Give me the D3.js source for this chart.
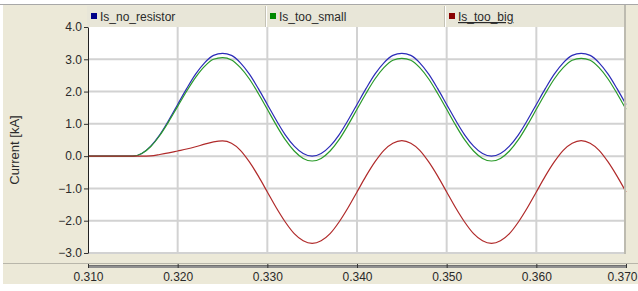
<!DOCTYPE html>
<html><head><meta charset="utf-8">
<script src="https://cdn.jsdelivr.net/npm/d3@7"></script>
<style>
html,body{margin:0;padding:0;background:#fff;}
svg{display:block;font-family:"Liberation Sans",Arial,sans-serif;}
</style></head>
<body>
<svg id="c" width="638" height="291"></svg>
<script>
// time [s]
const times = [0.310,0.311,0.312,0.313,0.314,0.315,0.316,0.317,0.318,0.319,
  0.320,0.321,0.322,0.323,0.324,0.325,0.326,0.327,0.328,0.329,
  0.330,0.331,0.332,0.333,0.334,0.335,0.336,0.337,0.338,0.339,
  0.340,0.341,0.342,0.343,0.344,0.345,0.346,0.347,0.348,0.349,
  0.350,0.351,0.352,0.353,0.354,0.355,0.356,0.357,0.358,0.359,
  0.360,0.361,0.362,0.363,0.364,0.365,0.366,0.367,0.368,0.369,0.370];
const isNoResistor = [0,0,0,0,0,0,0.08,0.31,0.66,1.11,
  1.60,2.09,2.54,2.89,3.12,3.18,3.12,2.89,2.54,2.09,
  1.60,1.11,0.66,0.31,0.08,0.00,0.08,0.31,0.66,1.11,
  1.60,2.09,2.54,2.89,3.12,3.18,3.12,2.89,2.54,2.09,
  1.60,1.11,0.66,0.31,0.08,0.00,0.08,0.31,0.66,1.11,
  1.60,2.09,2.54,2.89,3.12,3.18,3.12,2.89,2.54,2.09,1.60];
const isTooSmall = [0,0,0,0,0,0,0.08,0.30,0.64,1.07,
  1.54,2.01,2.44,2.78,3.00,3.05,2.98,2.74,2.39,1.94,
  1.45,0.96,0.51,0.16,-0.07,-0.15,-0.07,0.16,0.51,0.96,
  1.45,1.94,2.39,2.74,2.97,3.03,2.97,2.74,2.39,1.94,
  1.45,0.96,0.51,0.16,-0.07,-0.15,-0.07,0.16,0.51,0.96,
  1.45,1.94,2.39,2.74,2.97,3.03,2.97,2.74,2.39,1.94,1.45];
const isTooBig = [0,0,0,0,0,0,0,0.01,0.05,0.10,
  0.16,0.22,0.29,0.37,0.44,0.47,0.40,0.18,-0.18,-0.62,
  -1.11,-1.60,-2.04,-2.40,-2.62,-2.70,-2.62,-2.40,-2.04,-1.60,
  -1.11,-0.62,-0.18,0.18,0.40,0.48,0.40,0.18,-0.18,-0.62,
  -1.11,-1.60,-2.04,-2.40,-2.62,-2.70,-2.62,-2.40,-2.04,-1.60,
  -1.11,-0.62,-0.18,0.18,0.40,0.48,0.40,0.18,-0.18,-0.62,-1.11];
const seriesNames = ["Is_no_resistor","Is_too_small","Is_too_big"];
const xTicks = [0.310,0.320,0.330,0.340,0.350,0.360,0.370];
const yTicks = [-3,-2,-1,0,1,2,3,4];
const yLabel = "Current [kA]";

const lineColors = ["#2b2bb8","#2a9a2a","#b02a2a"];
const legendColors = ["#000088","#008800","#880000"];

const svg = d3.select("#c");
const W = 638, H = 291;
const beige = "#ece9d8";
const L = 88, R = 626, T = 27, B = 253;
const x = d3.scaleLinear().domain([0.310,0.370]).range([L,R]);
const y = d3.scaleLinear().domain([-3,4]).range([B,T]);

// backgrounds
svg.append("rect").attr("x",3).attr("y",5).attr("width",W-3).attr("height",279).attr("fill",beige);
svg.append("line").attr("x1",0).attr("x2",W).attr("y1",4.5).attr("y2",4.5).attr("stroke","#a8a8a8");
// plot area
svg.append("rect").attr("x",L).attr("y",T).attr("width",R-L).attr("height",B-T+1).attr("fill","#fff");

// grid
const g = svg.append("g");
g.selectAll("line.v").data(xTicks.slice(1,-1)).join("line")
  .attr("x1",d=>x(d)).attr("x2",d=>x(d)).attr("y1",T).attr("y2",B)
  .attr("stroke","#d2d2d2").attr("stroke-width",2);
g.selectAll("line.h").data(yTicks.slice(0,-1)).join("line")
  .attr("x1",L).attr("x2",R).attr("y1",d=>y(d)).attr("y2",d=>y(d))
  .attr("stroke","#d2d2d2").attr("stroke-width",2);

// lines
const allSeries = [isNoResistor,isTooSmall,isTooBig];
const lineGen = d3.line().x((d,i)=>x(times[i])).y(d=>y(d)).curve(d3.curveMonotoneX);
[0,1,2].forEach(k=>{
  svg.append("path").datum(allSeries[k]).attr("d",lineGen)
    .attr("fill","none").attr("stroke",lineColors[k]).attr("stroke-width",1.2);
});

// y axis
const yAxis = d3.axisLeft(y).tickValues(yTicks).tickFormat(d3.format(".1f")).tickSize(4).tickSizeOuter(0);
const ya = svg.append("g").attr("transform",`translate(${L},0)`).call(yAxis);
ya.select(".domain").attr("stroke","#222");
ya.selectAll(".tick line").attr("stroke","#333");
ya.selectAll("text").attr("font-size",12).attr("fill","#2a2a2a").attr("font-family","Liberation Sans, Arial").attr("x",-6);

svg.append("text").attr("transform","translate(19,150) rotate(-90)")
  .attr("text-anchor","middle").attr("font-size",13).attr("fill","#2a2a2a").text(yLabel);

// right legend border
svg.append("rect").attr("x",R-2).attr("y",5).attr("width",2).attr("height",B-4).attr("fill","#bdbbb0");

// bottom x-axis area
svg.append("line").attr("x1",3).attr("x2",W).attr("y1",263.5).attr("y2",263.5).attr("stroke","#b8b6aa");
svg.append("rect").attr("x",L).attr("y",265).attr("width",R-L).attr("height",3).attr("fill","#8f8f8f");
svg.append("rect").attr("x",L).attr("y",265).attr("width",R-L).attr("height",1).attr("fill","#707070");
const xAxis = d3.axisBottom(x).tickValues(xTicks).tickFormat(d3.format(".3f")).tickSize(3).tickSizeOuter(0);
const xa = svg.append("g").attr("transform","translate(0,265)").call(xAxis);
xa.select(".domain").remove();
xa.selectAll(".tick line").attr("stroke","#333").attr("y1",-1).attr("y2",3);
xa.selectAll("text").attr("font-size",12).attr("fill","#2a2a2a").attr("font-family","Liberation Sans, Arial").attr("y",7);
// keep the last label inside the frame
xa.selectAll(".tick text").filter(d=>d===xTicks[xTicks.length-1])
  .attr("text-anchor","end").attr("x",W-1-x(xTicks[xTicks.length-1]));
svg.append("rect").attr("x",0).attr("y",284).attr("width",W).attr("height",7).attr("fill","#fff");

// legend
const lg = svg.append("g");
const cellW = (R-2-L+1)/3;
lg.append("rect").attr("x",L-1).attr("y",6).attr("width",R-L-1).attr("height",21).attr("fill","#e8e6d8");
seriesNames.forEach((n,i)=>{
  const cx = L-1 + i*cellW;
  if(i>0) lg.append("line").attr("x1",cx+0.5).attr("x2",cx+0.5).attr("y1",6).attr("y2",27).attr("stroke","#fff");
  if(i>0) lg.append("line").attr("x1",cx-0.5).attr("x2",cx-0.5).attr("y1",6).attr("y2",27).attr("stroke","#c4c2b5");
  lg.append("rect").attr("x",cx+4).attr("y",13).attr("width",6).attr("height",6).attr("fill",legendColors[i]);
  const t = lg.append("text").attr("x",cx+13).attr("y",21).attr("font-size",12).attr("fill","#2a2a2a").text(n);
  if(i===2) t.attr("text-decoration","underline");
});
</script>
</body></html>
